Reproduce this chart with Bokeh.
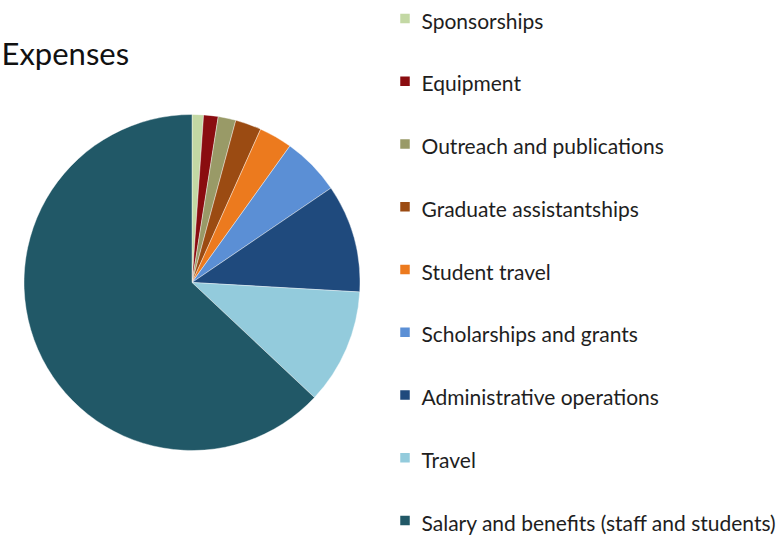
import math
from bokeh.plotting import figure
from bokeh.models import Range1d, ColumnDataSource
from bokeh.core.properties import value
from bokeh.embed import file_html
from bokeh.resources import INLINE

# Data (percent of total expenses), clockwise from 12 o'clock
categories = ["Sponsorships", "Equipment", "Outreach and publications",
              "Graduate assistantships", "Student travel", "Scholarships and grants",
              "Administrative operations", "Travel",
              "Salary and benefits (staff and students)"]
shares = [1.1, 1.4, 1.7, 2.5, 3.2, 5.6, 10.4, 11.1, 63.0]
colors = ["#c3d8a4", "#8a0c10", "#999a67", "#9b4b12", "#ec7a1e", "#5b8fd5",
          "#1f4a7d", "#93cbdc", "#215867"]

W, H = 779, 537
FONT = "Lato"

p = figure(width=W, height=H, output_backend="svg", toolbar_location=None,
           x_range=Range1d(0, W), y_range=Range1d(0, H), min_border=0)
p.axis.visible = False
p.grid.visible = False
p.outline_line_color = None
p.background_fill_color = "white"
p.border_fill_color = "white"

total = sum(shares)
starts, ends = [], []
acc = 0.0
for s in shares:
    a0 = math.pi / 2 - 2 * math.pi * acc / total
    acc += s
    a1 = math.pi / 2 - 2 * math.pi * acc / total
    starts.append(a0)
    ends.append(a1)

cx, cy_top, r = 191.5, 282, 168
src = ColumnDataSource(dict(start=starts, end=ends, color=colors, cat=categories))
p.wedge(x=cx, y=H - cy_top, radius=r, radius_units="screen",
        start_angle="start", end_angle="end", direction="clock",
        fill_color="color", line_color="white", line_width=0.4, source=src)

# Legend (manual, vertically stacked)
lx_sq, lx_txt = 404.5, 421
mid0, step = 19.5, 62.75
ys = [H - (mid0 + i * step) for i in range(len(categories))]
lsrc = ColumnDataSource(dict(y=ys, ysq=[y + 1.5 for y in ys], color=colors, cat=categories))
p.scatter(x=lx_sq, y="ysq", marker="square", size=9.5, fill_color="color",
          line_color=None, source=lsrc)
p.text(x=lx_txt, y="y", text="cat", source=lsrc, text_font=value(FONT),
       text_font_size="21px", text_color="#1e1e1e", text_baseline="middle",
       text_align="left")

# Title
p.text(x=[1], y=[H - 52], text=["Expenses"], text_font=value(FONT),
       text_font_size="31px", text_color="#111111", text_baseline="middle",
       text_align="left")

open("out.html", "w").write(file_html(p, INLINE))
